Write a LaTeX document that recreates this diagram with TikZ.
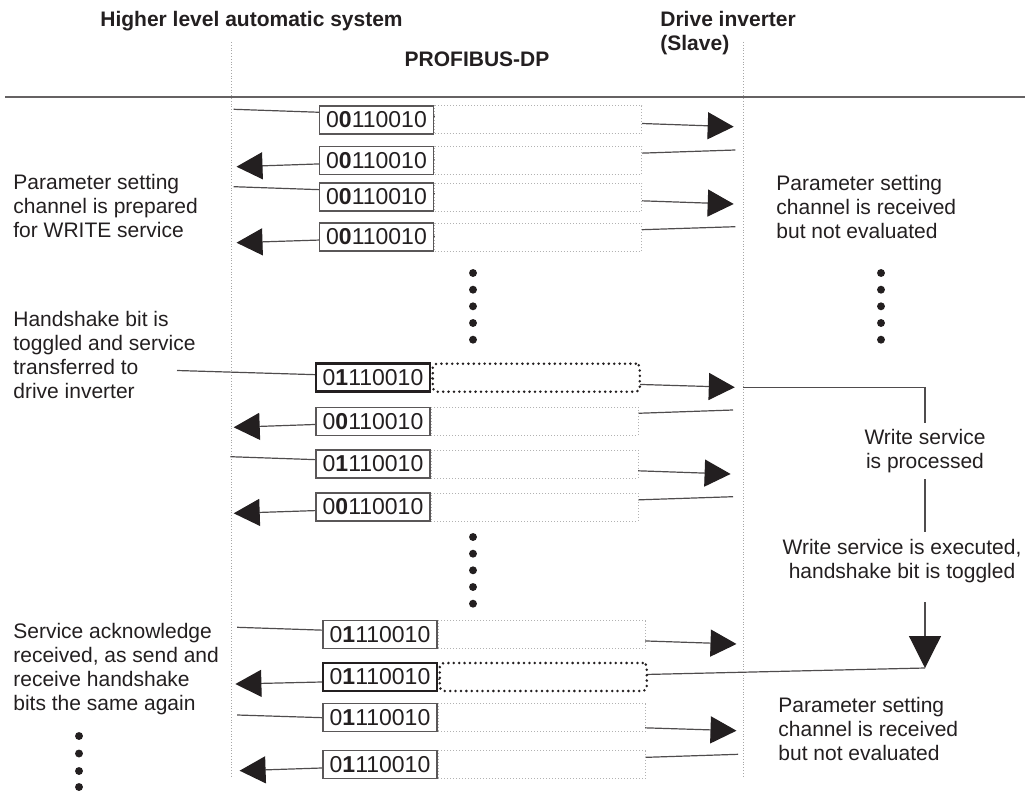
\documentclass[tikz,border=0pt]{standalone}
\usepackage{fontspec}
\setmainfont{Liberation Sans}
\usetikzlibrary{arrows.meta,positioning}
\definecolor{ink}{HTML}{231F20}

\tikzset{
  lbl/.style={anchor=west, align=left, inner sep=0pt, text=ink, font=\fontsize{10.5}{12}\selectfont},
  head/.style={inner sep=0pt, text=ink, font=\bfseries\fontsize{10.5}{12}\selectfont},
  msg/.style={draw=ink!80, line width=0.6pt, -{Triangle[length=13pt,width=13.5pt,color=ink]}},
  flow/.style={draw=ink!80, line width=0.6pt},
  life/.style={draw=gray!70, densely dotted, line width=0.4pt},
  bitbox/.style={draw=ink!75, line width=0.7pt, fill=white, minimum width=57pt, minimum height=14pt, inner sep=0pt, text=ink, font=\fontsize{11.5}{12}\selectfont},
  bitboxhs/.style={bitbox, draw=ink, line width=1.4pt},
  ext/.style={draw=gray!60, densely dotted, line width=0.5pt, fill=white, minimum width=103.5pt, minimum height=14pt, inner sep=0pt},
  exths/.style={ext, draw=ink, line width=1.4pt, dash pattern=on 0pt off 2.7pt, line cap=round, rounded corners=2pt},
  dot/.style={circle, inner sep=1.4pt, fill=ink}
}

\begin{document}
\begin{tikzpicture}[x=0.5pt, y={(0pt,-0.5pt)}]
		\useasboundingbox (0,0) rectangle (1033,792);
		% headings and bus line
		\node[head, anchor=west] (hls) at (100,21) {Higher level automatic system};
		\node[head, anchor=west, align=left] (drv) at (660,33) {Drive inverter\\(Slave)};
		\node[head] (bus) at (477,59) {PROFIBUS-DP};
		\draw[ink!70, line width=0.8pt] (5,97) -- (1025,97);
		\draw[life] (231,42) -- (231,778);
		\draw[life] (743,42) -- (743,778);
		% telegrams
		\foreach \n/\xa/\ya/\xb/\yb in {1/233.7/109.3/733.7/126.7, 2/735.4/150/236.5/166.7,
			3/233.7/186.7/733.7/204, 4/735.4/226.7/236.5/242.7, 5/177/370.5/734.8/387.3,
			6/733/410/233.7/427.3, 7/230.3/456.7/730.6/474, 8/733/496.7/233.7/513.3,
			9/237.2/627.3/736.5/644, 10/925/668/235.4/684, 11/237.2/715/736.5/730.7,
			12/738.2/754.3/239.6/770.7}{
			\coordinate (s\n) at (\xa,\ya);
			\coordinate (t\n) at (\xb,\yb);
			\draw[msg] (s\n) -- (t\n);
		}
		\node[bitbox] (b1) at (376.5,120) {0\textbf{0}110010}; \node[ext, right=0pt of b1] (e1) {};
		\node[bitbox] (b2) at (376.5,160.3) {0\textbf{0}110010}; \node[ext, right=0pt of b2] (e2) {};
		\node[bitbox] (b3) at (376.5,197) {0\textbf{0}110010}; \node[ext, right=0pt of b3] (e3) {};
		\node[bitbox] (b4) at (376.5,237) {0\textbf{0}110010}; \node[ext, right=0pt of b4] (e4) {};
		\node[bitboxhs] (b5) at (373,377.7) {0\textbf{1}110010}; \node[exths, right=0pt of b5] (e5) {};
		\node[bitbox] (b6) at (373,421.3) {0\textbf{0}110010}; \node[ext, right=0pt of b6] (e6) {};
		\node[bitbox] (b7) at (373,464) {0\textbf{1}110010}; \node[ext, right=0pt of b7] (e7) {};
		\node[bitbox] (b8) at (373,507) {0\textbf{0}110010}; \node[ext, right=0pt of b8] (e8) {};
		\node[bitbox] (b9) at (380,634.7) {0\textbf{1}110010}; \node[ext, right=0pt of b9] (e9) {};
		\node[bitboxhs] (b10) at (380,677) {0\textbf{1}110010}; \node[exths, right=0pt of b10] (e10) {};
		\node[bitbox] (b11) at (380,717.7) {0\textbf{1}110010}; \node[ext, right=0pt of b11] (e11) {};
		\node[bitbox] (b12) at (380,764.7) {0\textbf{1}110010}; \node[ext, right=0pt of b12] (e12) {};
		% dots
		\foreach \i/\y in {1/273,2/289.7,3/306.3,4/323,5/339.7}{
			\node[dot] (ma\i) at (473,\y) {};
			\node[dot] (ra\i) at (881,\y) {};
			\node[dot] (mb\i) at (473,\y+264) {};
		}
		\foreach \i/\y in {1/736,2/753.5,3/771,4/787}
			\node[dot] (la\i) at (79,\y) {};
		% comments
		\node[lbl] (prep) at (13,206) {Parameter setting\\channel is prepared\\for WRITE service};
		\node[lbl] (tog) at (13,355) {Handshake bit is\\toggled and service\\transferred to\\drive inverter};
		\node[lbl] (sack) at (13,669) {Service acknowledge\\received, as send and\\receive handshake\\bits the same again};
		\node[lbl] (recv1) at (776,207) {Parameter setting\\channel is received\\but not evaluated};
		\node[lbl] (recv2) at (778,729) {Parameter setting\\channel is received\\but not evaluated};
		% slave side
		\coordinate (w5) at (743,387.3);
		\node[lbl, anchor=center, align=center, minimum height=28pt] (proc) at (925,451) {Write service\\is processed};
		\node[lbl, anchor=center, align=center, minimum height=29.5pt] (exec) at (902,561.5) {Write service is executed,\\handshake bit is toggled};
		\draw[flow] (w5) -| (proc.north);
		\draw[flow] (proc.south) -- (proc.south |- exec.north);
		\draw[flow, -{Triangle[length=16pt,width=16pt,color=ink]}] ([yshift=-5.5pt]proc.south |- exec.south) -- (s10);
		\end{tikzpicture}
\end{document}
